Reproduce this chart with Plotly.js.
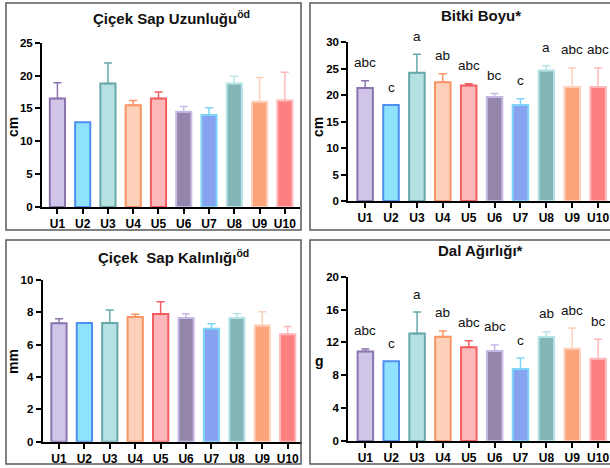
<!DOCTYPE html>
<html>
<head>
<meta charset="utf-8">
<script src="https://cdn.plot.ly/plotly-3.0.1.min.js"></script>
<style>
  html, body { margin: 0; padding: 0; background: #fff; }
  #chart { width: 610px; height: 468px; }
</style>
</head>
<body>
<div id="chart"></div>
<script>
// ---- Data ----
const categories = ['U1', 'U2', 'U3', 'U4', 'U5', 'U6', 'U7', 'U8', 'U9', 'U10'];

// Çiçek Sap Uzunluğu (cm)
const sapUzunlukMean = [16.5, 12.9, 18.8, 15.5, 16.5, 14.5, 14.0, 18.8, 16.0, 16.2];
const sapUzunlukSD   = [2.4, 0, 3.1, 0.7, 1.0, 0.8, 1.1, 1.1, 3.7, 4.3];

// Bitki Boyu (cm)
const bitkiBoyuMean = [21.3, 18.1, 24.2, 22.4, 21.8, 19.6, 18.1, 24.6, 21.5, 21.5];
const bitkiBoyuSD   = [1.4, 0, 3.5, 1.6, 0.3, 0.7, 1.2, 0.9, 3.6, 3.6];
const bitkiBoyuLetters = ['abc', 'c', 'a', 'ab', 'abc', 'bc', 'c', 'a', 'abc', 'abc'];

// Çiçek Sap Kalınlığı (mm)
const sapKalinlikMean = [7.32, 7.34, 7.34, 7.71, 7.90, 7.65, 6.99, 7.65, 7.18, 6.64];
const sapKalinlikSD   = [0.29, 0, 0.80, 0.17, 0.76, 0.27, 0.31, 0.27, 0.86, 0.49];

// Dal Ağırlığı (g)
const dalAgirlikMean = [10.9, 9.7, 13.1, 12.7, 11.4, 10.95, 8.76, 12.66, 11.24, 10.0];
const dalAgirlikSD   = [0.3, 0, 2.6, 0.7, 0.8, 0.75, 1.34, 0.64, 2.51, 2.4];
const dalAgirlikLetters = ['abc', 'c', 'a', 'ab', 'abc', 'abc', 'c', 'ab', 'abc', 'bc'];

// ---- Styles ----
const fillColors = ['#d0c4e8', '#8fe2fb', '#b6e1e3', '#fdd0b9', '#fdb9ba', '#9486ab', '#87a2f0', '#84b6b9', '#fca57d', '#fd7f80'];
const lineColors = ['#8a75ae', '#4f8ff0', '#67a8aa', '#fb9464', '#f25e62', '#c7b9e6', '#7fd4f7', '#b7e4e6', '#fdd0bb', '#fdb9ba'];
const FONT = 'Arial, "Liberation Sans", sans-serif';

const panels = [
  { mean: sapUzunlukMean, sd: sapUzunlukSD, xa: 'x', ya: 'y', letters: null },
  { mean: bitkiBoyuMean, sd: bitkiBoyuSD, xa: 'x2', ya: 'y2', letters: bitkiBoyuLetters },
  { mean: sapKalinlikMean, sd: sapKalinlikSD, xa: 'x3', ya: 'y3', letters: null },
  { mean: dalAgirlikMean, sd: dalAgirlikSD, xa: 'x4', ya: 'y4', letters: dalAgirlikLetters }
];

const traces = [];
const annotations = [];
panels.forEach(p => {
  categories.forEach((c, i) => {
    traces.push({
      type: 'bar',
      x: [c],
      y: [p.mean[i]],
      xaxis: p.xa,
      yaxis: p.ya,
      width: 0.6,
      marker: { color: fillColors[i], line: { color: lineColors[i], width: 2 } },
      error_y: {
        type: 'data', symmetric: false,
        array: [p.sd[i]], arrayminus: [0],
        visible: p.sd[i] > 0,
        color: lineColors[i], thickness: 1.5, width: 4
      },
      hoverinfo: 'skip'
    });
    if (p.letters) {
      annotations.push({
        xref: p.xa, yref: p.ya,
        x: c, y: p.mean[i] + p.sd[i],
        text: p.letters[i], showarrow: false,
        xanchor: 'center', yanchor: 'middle', yshift: 18,
        font: { family: FONT, size: 13.5, color: '#111' }
      });
    }
  });
});

function xAxis(domain, range, anchor) {
  return {
    domain: domain, range: range, anchor: anchor, type: 'category',
    categoryorder: 'array', categoryarray: categories,
    showline: true, linewidth: 2, linecolor: '#000',
    ticks: 'outside', ticklen: 5, tickwidth: 2, tickcolor: '#000',
    tickfont: { family: FONT, size: 12, color: '#000', weight: 'bold' },
    showgrid: false, zeroline: false, fixedrange: true
  };
}
function yAxis(domain, range, dtick, anchor) {
  return {
    domain: domain, range: range, dtick: dtick, anchor: anchor,
    showline: true, linewidth: 2, linecolor: '#000',
    ticks: 'outside', ticklen: 5, tickwidth: 2, tickcolor: '#000',
    tickfont: { family: FONT, size: 11.5, color: '#000', weight: 'bold' },
    showgrid: false, zeroline: false, fixedrange: true
  };
}

const W = 610, H = 468;
const px = v => v / W;
const py = v => 1 - v / H;

const centered = { xanchor: 'center', yanchor: 'middle', showarrow: false, xref: 'paper', yref: 'paper' };

// Titles
const titleFont = { family: FONT, size: 15, color: '#111', weight: 'bold' };
annotations.push(
  Object.assign({}, centered, { x: px(171), y: py(18), text: 'Çiçek Sap Uzunluğu<sup>öd</sup>', font: titleFont }),
  Object.assign({}, centered, { x: px(481), y: py(16), text: 'Bitki Boyu*', font: titleFont }),
  Object.assign({}, centered, { x: px(173), y: py(256), text: 'Çiçek\u00a0 Sap Kalınlığı<sup>öd</sup>', font: titleFont }),
  Object.assign({}, centered, { x: px(480), y: py(250), text: 'Dal Ağırlığı*', font: titleFont })
);
// Axis titles
const axFont = { family: FONT, size: 14, color: '#000', weight: 'bold' };
annotations.push(
  Object.assign({}, centered, { x: px(13), y: py(127), text: 'cm', textangle: -90, font: axFont }),
  Object.assign({}, centered, { x: px(318), y: py(127), text: 'cm', textangle: -90, font: axFont }),
  Object.assign({}, centered, { x: px(13), y: py(362), text: 'mm', textangle: -90, font: axFont }),
  Object.assign({}, centered, { x: px(319), y: py(361), text: 'g', font: axFont })
);

const frame = (x0, y0, x1, y1) => ({
  type: 'rect', xref: 'paper', yref: 'paper',
  x0: px(x0), x1: px(x1), y0: py(y1), y1: py(y0),
  line: { color: '#5a5a5a', width: 1.5 }, fillcolor: 'rgba(0,0,0,0)'
});

const layout = {
  width: W, height: H,
  margin: { l: 0, r: 0, t: 0, b: 0, pad: 0 },
  paper_bgcolor: '#fff', plot_bgcolor: 'rgba(0,0,0,0)',
  showlegend: false, barmode: 'overlay',
  font: { family: FONT },
  xaxis: xAxis([px(42), px(300)], [-0.61, 9.6], 'y'),
  yaxis: yAxis([py(207), py(42.7)], [0, 25], 5, 'x'),
  xaxis2: xAxis([px(348.3), 1], [-0.65, 9.46], 'y2'),
  yaxis2: yAxis([py(201), py(42)], [0, 30], 5, 'x2'),
  xaxis3: xAxis([px(42.7), px(301.7)], [-0.64, 9.55], 'y3'),
  yaxis3: yAxis([py(441.7), py(280)], [0, 10], 2, 'x3'),
  xaxis4: xAxis([px(348.3), 1], [-0.66, 9.46], 'y4'),
  yaxis4: yAxis([py(441), py(276.7)], [0, 20], 4, 'x4'),
  annotations: annotations,
  shapes: [
    frame(6, 3, 301, 230),
    frame(310, 3, 614, 230),
    frame(6, 240, 301, 464),
    frame(310, 240, 614, 464)
  ]
};

Plotly.newPlot('chart', traces, layout, { staticPlot: true, displayModeBar: false });
</script>
</body>
</html>
